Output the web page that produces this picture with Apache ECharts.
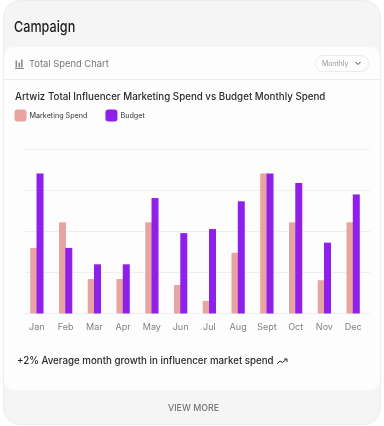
<!DOCTYPE html>
<html>
<head>
<meta charset="utf-8">
<style>html,body{margin:0;padding:0;background:#fff}#c{width:384px;height:426px}</style>
<script src="https://cdn.jsdelivr.net/npm/echarts@6/dist/echarts.min.js"></script>
</head>
<body>
<div id="c"></div>
<script>
const months = ['Jan','Feb','Mar','Apr','May','Jun','Jul','Aug','Sept','Oct','Nov','Dec'];
const marketingSpend = [40,55.6,21,21,55.6,17.4,7.7,37,85.4,55.6,20.3,55.6];
const budget = [85.4,40,30,30,70.4,49,51.5,68.4,85.4,79.5,43.2,72.6];
const FONT = 'Inter';
const chart = echarts.init(document.getElementById('c'), null, {renderer:'canvas'});
const txt = (x,y,text,size,color,weight,align,sx) => ({type:'text',x,y,z:5,scaleX:sx||1,style:{text,font:(weight||400)+' '+size+'px '+FONT,fill:color,textAlign:align||'left',textVerticalAlign:'middle'}});
chart.setOption({
  animation:false,
  textStyle:{fontFamily:FONT},
  title:{text:'Artwiz Total Influencer Marketing Spend vs Budget Monthly Spend',left:15,top:91,padding:0,textStyle:{fontFamily:FONT,fontSize:9.75,fontWeight:500,color:'#2a2a2a',lineHeight:13}},
  legend:{left:14.5,top:109.5,itemWidth:12,itemHeight:12,itemGap:18,icon:'roundRect',textStyle:{fontFamily:FONT,fontSize:7.2,color:'#333',padding:[0,0,0,-2]},data:['Marketing Spend','Budget'],padding:0},
  grid:[
    {left:25,width:345,top:149.5,height:164},
    {left:22.5,width:345,top:149.5,height:164}
  ],
  xAxis:[
    {gridIndex:0,type:'category',data:months,show:false},
    {gridIndex:1,type:'category',data:months,axisLine:{show:false},axisTick:{show:false},axisLabel:{fontFamily:FONT,fontSize:9,color:'#808080',margin:9.5,interval:0}}
  ],
  yAxis:[
    {gridIndex:0,type:'value',min:0,max:100,interval:25,axisLabel:{show:false},axisLine:{show:false},axisTick:{show:false},splitLine:{lineStyle:{color:'#efefef',width:1}}},
    {gridIndex:1,type:'value',min:0,max:100,interval:25,show:false,splitLine:{show:false}}
  ],
  series:[
    {name:'Marketing Spend',type:'bar',xAxisIndex:1,yAxisIndex:1,data:marketingSpend,barWidth:7,barGap:'-10%',itemStyle:{color:'#E8A3A3'}},
    {name:'Budget',type:'bar',xAxisIndex:1,yAxisIndex:1,data:budget,barWidth:7,barGap:'-10%',itemStyle:{color:'#9020E8'}}
  ],
  graphic:{elements:[
    {type:'rect',z:-10,shape:{x:3.5,y:0.5,width:377,height:424,r:16},style:{fill:'#f5f5f5',stroke:'#eeeeee',lineWidth:1}},
    {type:'rect',z:-9,shape:{x:4,y:47,width:376,height:343,r:[10,10,10,10]},style:{fill:'#fdfdfd'}},
    {type:'line',z:-8,shape:{x1:4,y1:79.5,x2:380,y2:79.5},style:{stroke:'#efefef',lineWidth:1}},
    txt(14,27,'Campaign',15,'#1c1c1c',500,'left',0.84),
    {type:'rect',z:5,shape:{x:15.5,y:60.5,width:1.6,height:7},style:{fill:'#8a8a8a'}},
    {type:'rect',z:5,shape:{x:18.5,y:62.5,width:1.6,height:5},style:{fill:'#8a8a8a'}},
    {type:'rect',z:5,shape:{x:21,y:59.5,width:1.6,height:8},style:{fill:'#8a8a8a'}},
    {type:'line',z:5,shape:{x1:15,y1:68.5,x2:24,y2:68.5},style:{stroke:'#8a8a8a',lineWidth:1}},
    txt(29,64,'Total Spend Chart',9.4,'#777',400),
    {type:'rect',z:5,shape:{x:315.5,y:55.5,width:53,height:16,r:8},style:{fill:'#fdfdfd',stroke:'#ebebeb',lineWidth:1}},
    txt(322,63.5,'Monthly',6.9,'#999',400),
    {type:'polyline',z:5,shape:{points:[[355.5,62],[358,64.5],[360.5,62]]},style:{stroke:'#444',lineWidth:1,fill:null}},
    txt(17,361.5,'+2% Average month growth in influencer market spend',9.72,'#2a2a2a',500),
    {type:'polyline',z:5,shape:{points:[[277,364],[280,361],[282.5,362.5],[286.5,359]]},style:{stroke:'#2a2a2a',lineWidth:1,fill:null}},
    {type:'polyline',z:5,shape:{points:[[284,359],[287,359],[287,362]]},style:{stroke:'#2a2a2a',lineWidth:1,fill:null}},
    txt(193.5,408,'VIEW MORE',9.5,'#777',500,'center',0.93)
  ]}
});
</script>
</body>
</html>
